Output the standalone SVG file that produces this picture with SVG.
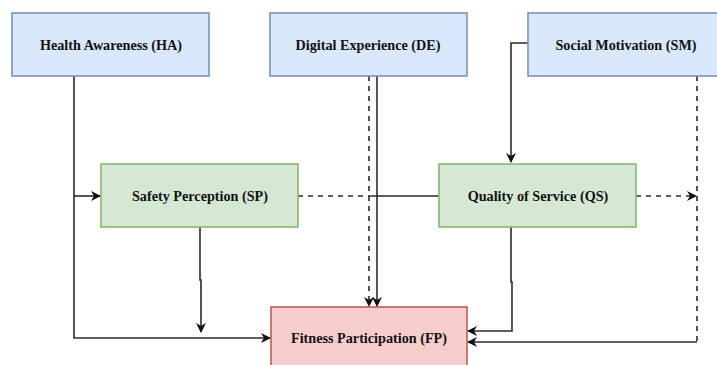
<svg xmlns="http://www.w3.org/2000/svg" width="717" height="365" viewBox="0 0 717 365">
<style>
.lbl{font-family:"Liberation Serif","Times New Roman",serif;font-weight:bold;font-size:14.2px;fill:#111;text-anchor:middle;dominant-baseline:central}
.blue{fill:#dae8fc;stroke:#6c8ebf;stroke-width:1.5}
.green{fill:#d5e8d4;stroke:#82b366;stroke-width:1.5}
.red{fill:#f8cecc;stroke:#b85450;stroke-width:1.5}
.c{fill:none;stroke:#2b2b2b;stroke-width:1.6}
.d{stroke-dasharray:5 5}
</style>
<defs>
<marker id="ah" viewBox="0 0 10 10" refX="9" refY="5" markerWidth="10" markerHeight="10" markerUnits="userSpaceOnUse" orient="auto">
<path d="M0,0 L10,5 L0,10 L3,5 Z" fill="#111"/>
</marker>
</defs>
<rect width="717" height="365" fill="#fff"/>
<g id="connectors">
<path class="c" d="M74,76 V338 H270" marker-end="url(#ah)"/>
<path class="c" d="M74,196 H100" marker-end="url(#ah)"/>
<path class="c" d="M200,227 V280 H201 V332" marker-end="url(#ah)"/>
<path class="c d" d="M369,76 V306" marker-end="url(#ah)"/>
<path class="c" d="M377,76 V306" marker-end="url(#ah)"/>
<path class="c d" d="M298,196 H369"/>
<path class="c" d="M369,196 H439"/>
<path class="c" d="M528,43 H511 V162" marker-end="url(#ah)"/>
<path class="c d" d="M636,196 H696" marker-end="url(#ah)"/>
<path class="c d" d="M697,76 V342"/>
<path class="c" d="M697,342 H468" marker-end="url(#ah)"/>
<path class="c" d="M511,227 V282 H512 V331 H468" marker-end="url(#ah)"/>
</g>
<g id="HA"><rect class="blue" x="12" y="13" width="197" height="63"/><text class="lbl" x="111" y="45">Health Awareness (HA)</text></g>
<g id="DE"><rect class="blue" x="270" y="13" width="197" height="63"/><text class="lbl" x="368" y="45">Digital Experience (DE)</text></g>
<g id="SM"><rect class="blue" x="528" y="13" width="197" height="63"/><text class="lbl" x="626" y="45">Social Motivation (SM)</text></g>
<g id="SP"><rect class="green" x="101" y="164" width="197" height="63"/><text class="lbl" x="200" y="196">Safety Perception (SP)</text></g>
<g id="QS"><rect class="green" x="439" y="164" width="197" height="63"/><text class="lbl" x="538" y="196">Quality of Service (QS)</text></g>
<g id="FP"><rect class="red" x="271" y="307" width="196" height="68"/><text class="lbl" x="369" y="338">Fitness Participation (FP)</text></g>
</svg>
